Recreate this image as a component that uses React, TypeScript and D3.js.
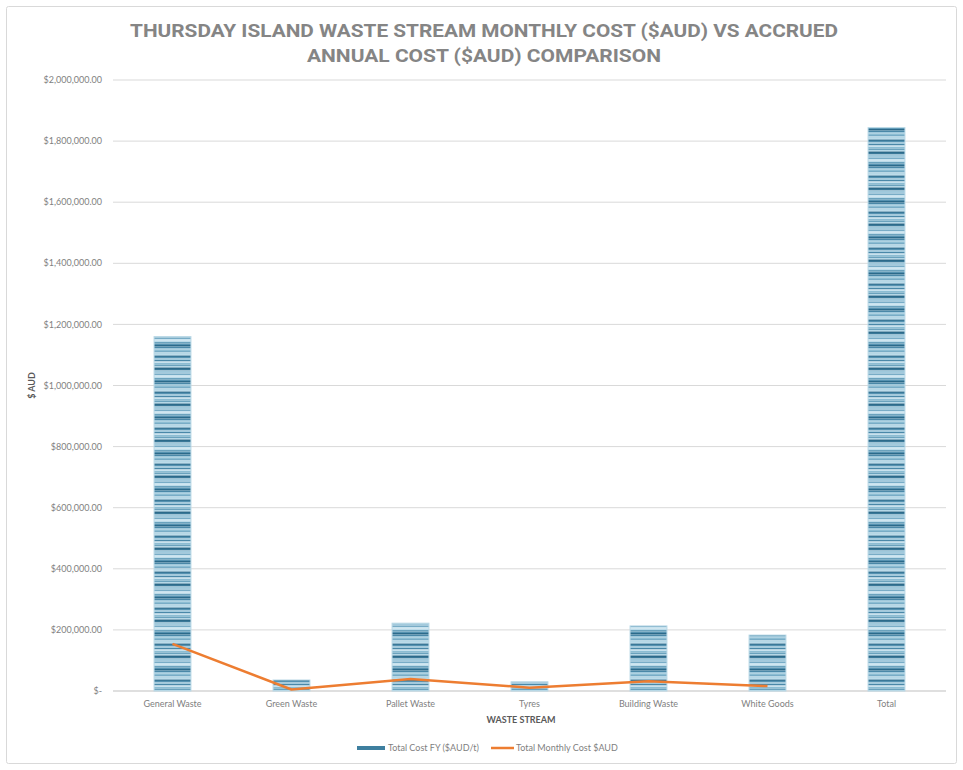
import React from "react";
import * as d3 from "d3";

const categories = ["General Waste", "Green Waste", "Pallet Waste", "Tyres", "Building Waste", "White Goods", "Total"];
const annualCost = [1160000, 36000, 222000, 30000, 213000, 183000, 1844000];
const monthlyCost: (number | null)[] = [154000, 5000, 39000, 11000, 32000, 16000, null];
const yTicks = [0, 200000, 400000, 600000, 800000, 1000000, 1200000, 1400000, 1600000, 1800000, 2000000];
const seriesNames = ["Total Cost FY ($AUD/t)", "Total Monthly Cost $AUD"];

const W = 963, H = 770;
const M = { left: 113, right: 17, top: 80, bottom: 79 };

const stripeColors = ["#4a88a8", "#8cbdd3", "#b5d7e6", "#3a7898", "#a2cadd", "#c8e2ee", "#6aa2bd", "#2c6a8a", "#9fc8db", "#78acc6", "#bcdbe9", "#5592b1"];

export default function App() {
  const x = d3.scaleBand<string>().domain(categories).range([M.left, W - M.right]).paddingInner(0.69).paddingOuter(0.345);
  const y = d3.scaleLinear().domain([0, 2000000]).range([H - M.bottom, M.top]);
  const fmt = (v: number) => (v === 0 ? "$-" : "$" + d3.format(",.2f")(v));
  const pts = categories.map((c, i) => ({ c, v: monthlyCost[i] })).filter(d => d.v != null) as { c: string; v: number }[];
  const line = d3.line<{ c: string; v: number }>().x(d => (x(d.c) as number) + x.bandwidth() / 2).y(d => y(d.v));
  const font = "Lato, 'Open Sans', sans-serif";
  const titleFont = "Roboto, 'DejaVu Sans', sans-serif";
  return (
    <svg width={W} height={H} style={{ position: "absolute", left: 0, top: 0 }} fontFamily={font}>
      <defs>
        <pattern id="stripes" patternUnits="userSpaceOnUse" width={8} height={36}>
          {stripeColors.map((col, i) => (
            <rect key={i} x={0} y={i * 3} width={8} height={1.5} fill={col} />
          ))}
          {stripeColors.map((col, i) => (
            <rect key={"b" + i} x={0} y={i * 3 + 1.5} width={8} height={1.5} fill={stripeColors[(i + 5) % stripeColors.length]} />
          ))}
        </pattern>
      </defs>
      <rect x={0} y={0} width={W} height={H} fill="#fff" />
      <rect x={6.5} y={6.5} width={W - 13} height={H - 13} fill="none" stroke="#d9d9d9" rx={2} />
      <text x={484} y={37} textAnchor="middle" fontSize={19} fontWeight={700} fill="#858585" textLength={708} lengthAdjust="spacingAndGlyphs" fontFamily={titleFont}>
        THURSDAY ISLAND WASTE STREAM MONTHLY COST ($AUD) VS ACCRUED
      </text>
      <text x={484} y={62} textAnchor="middle" fontSize={19} fontWeight={700} fill="#858585" textLength={354} lengthAdjust="spacingAndGlyphs" fontFamily={titleFont}>
        ANNUAL COST ($AUD) COMPARISON
      </text>
      {yTicks.map(t => (
        <g key={t}>
          <line x1={M.left} x2={W - M.right} y1={y(t)} y2={y(t)} stroke={t === 0 ? "#bfbfbf" : "#d9d9d9"} strokeWidth={1} />
          <text x={102} y={y(t)} dy="0.35em" textAnchor="end" fontSize={9} fill="#7f7f7f">{fmt(t)}</text>
        </g>
      ))}
      {categories.map((c, i) => (
        <g key={c}>
          <rect x={x(c)} y={y(annualCost[i])} width={x.bandwidth()} height={y(0) - y(annualCost[i])} fill="url(#stripes)" stroke="#b9d8e6" strokeWidth={1} />
          <text x={(x(c) as number) + x.bandwidth() / 2} y={707} textAnchor="middle" fontSize={9} fill="#7f7f7f">{c}</text>
        </g>
      ))}
      <path d={line(pts) || ""} fill="none" stroke="#ed7d31" strokeWidth={2.5} strokeLinejoin="round" />
      <text x={521} y={723} textAnchor="middle" fontSize={9} fontWeight={700} fill="#595959">WASTE STREAM</text>
      <text transform={`translate(35,${(y(0) + y(2000000)) / 2}) rotate(-90)`} textAnchor="middle" fontSize={9} fontWeight={700} fill="#595959">$ AUD</text>
      <rect x={357} y={746} width={28} height={4} fill="#3e7f9f" />
      <text x={388} y={748} dy="0.35em" fontSize={9} fill="#7f7f7f">{seriesNames[0]}</text>
      <line x1={491} x2={514} y1={748} y2={748} stroke="#ed7d31" strokeWidth={2.5} />
      <text x={516} y={748} dy="0.35em" fontSize={9} fill="#7f7f7f">{seriesNames[1]}</text>
    </svg>
  );
}
